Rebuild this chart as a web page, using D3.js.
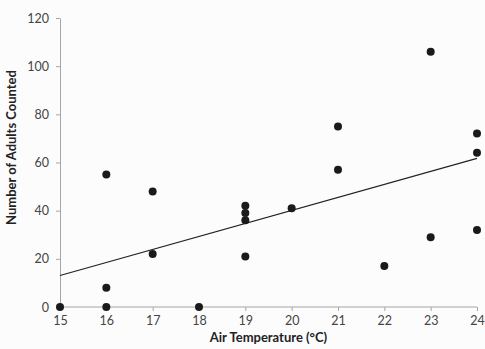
<!DOCTYPE html>
<html>
<head>
<meta charset="utf-8">
<script src="https://cdn.jsdelivr.net/npm/d3@7"></script>
<style>
  body { margin: 0; background: #fcfcfc; }
  svg { display: block; }
</style>
</head>
<body>
<div id="chart"></div>
<script>
var W = 485, H = 349;
var margin = {top: 18, right: 8, bottom: 42, left: 60};
var width = W - margin.left - margin.right;
var height = H - margin.top - margin.bottom;

// observations: air temperature (°C) and number of adults counted
var temps  = [15, 16, 16, 16, 17, 17, 18, 19, 19, 19, 19, 20, 21, 21, 22, 23, 23, 24, 24, 24];
var counts = [0, 55, 8, 0, 48, 22, 0, 42, 39, 36, 21, 41, 75, 57, 17, 106, 29, 72, 64, 32];
var xTicks = [15, 16, 17, 18, 19, 20, 21, 22, 23, 24];
var yTicks = [0, 20, 40, 60, 80, 100, 120];

var pts = temps.map(function(t, i){ return {x: t, y: counts[i]}; });

var x = d3.scaleLinear().domain([15, 24]).range([0, width]);
var y = d3.scaleLinear().domain([0, 120]).range([height, 0]);

var svg = d3.select("#chart").append("svg")
    .attr("width", W)
    .attr("height", H)
  .append("g")
    .attr("transform", "translate(" + margin.left + "," + margin.top + ")");

var font = "Lato, 'Open Sans', sans-serif";

var xAxis = svg.append("g")
    .attr("transform", "translate(0," + height + ")")
    .call(d3.axisBottom(x).tickValues(xTicks).tickSize(4).tickPadding(5).tickFormat(d3.format("d")));

var yAxis = svg.append("g")
    .call(d3.axisLeft(y).tickValues(yTicks).tickSize(4).tickPadding(7).tickSizeOuter(0));

[xAxis, yAxis].forEach(function(a){
  a.select(".domain").attr("stroke", "#a6a6a6");
  a.selectAll(".tick line").attr("stroke", "#a6a6a6");
  a.selectAll("text").attr("fill", "#444").style("font-family", font).style("font-size", "12.5px");
});
xAxis.select(".domain").attr("d", "M0,0H" + width);

// least squares trend line
var mx = d3.mean(temps), my = d3.mean(counts);
var sxy = d3.sum(pts, function(d){ return (d.x - mx) * (d.y - my); });
var sxx = d3.sum(pts, function(d){ return (d.x - mx) * (d.x - mx); });
var slope = sxy / sxx, icpt = my - slope * mx;
var trend = x.domain().map(function(t){ return {x: t, y: icpt + slope * t}; });

svg.append("path")
    .datum(trend)
    .attr("fill", "none")
    .attr("stroke", "#222")
    .attr("stroke-width", 1.2)
    .attr("d", d3.line()
      .x(function(d){ return x(d.x); })
      .y(function(d){ return y(d.y); }));

svg.selectAll("circle.pt")
    .data(pts)
  .enter().append("circle")
    .attr("class", "pt")
    .attr("cx", function(d){ return x(d.x); })
    .attr("cy", function(d){ return y(d.y); })
    .attr("r", 4)
    .attr("fill", "#1a1a1a");

svg.append("text")
    .attr("x", width / 2)
    .attr("y", height + 35)
    .attr("text-anchor", "middle")
    .style("font-family", font)
    .style("font-size", "13px")
    .style("font-weight", "bold")
    .attr("fill", "#222")
    .text("Air Temperature (°C)");

svg.append("text")
    .attr("transform", "translate(" + (-44) + "," + (height / 2 - 15) + ") rotate(-90)")
    .attr("text-anchor", "middle")
    .style("font-family", font)
    .style("font-size", "13px")
    .style("font-weight", "bold")
    .attr("fill", "#222")
    .text("Number of Adults Counted");
</script>
</body>
</html>
